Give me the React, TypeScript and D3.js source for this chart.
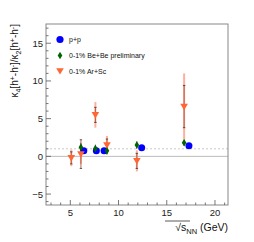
import * as d3 from "d3";

// sqrt(s_NN) positions and kappa4/kappa2 values
const ppEnergy = [6.4, 7.7, 8.5, 12.4, 17.3];
const ppValue = [0.75, 0.75, 0.75, 1.15, 1.4];
const ppStat = [0.2, 0.2, 0.2, 0.2, 0.2];

const beEnergy = [6.1, 7.6, 8.8, 11.9, 16.8];
const beValue = [1.2, 1.05, 0.75, 1.5, 1.8];
const beStat = [0.6, 0.5, 0.5, 0.5, 0.4];

const arEnergy = [5.1, 6.1, 7.6, 8.8, 11.9, 16.8];
const arValue = [-0.2, 0.3, 5.5, 1.5, -0.6, 6.6];
const arStat = [0.8, 1.9, 1.0, 0.8, 1.0, 2.8];
const arSys = [1.1, 1.3, 1.7, 1.2, 1.4, 4.4];

const xTicks = [5, 10, 15, 20];
const yTicks = [-5, 0, 5, 10, 15];

const legendLabels = ["p+p", "0-1% Be+Be preliminary", "0-1% Ar+Sc"];

const W = 254;
const H = 242;
const margin = { left: 46, right: 26, top: 24, bottom: 37 };

const BLUE = "#0000ff";
const GREEN = "#006400";
const ORANGE = "#ff6633";
const font = "'Liberation Sans', Arial, sans-serif";

const App = () => {
  const x = d3.scaleLinear().domain([2.48, 21.35]).range([margin.left, W - margin.right]);
  const y = d3.scaleLinear().domain([-6.45, 17.55]).range([H - margin.bottom, margin.top]);

  const x0 = margin.left;
  const x1 = W - margin.right;
  const y0 = H - margin.bottom;
  const y1 = margin.top;

  const xMinor = d3.range(3, 22);
  const yMinor = d3.range(-6, 18);

  const diamond = (cx: number, cy: number) =>
    `M${cx},${cy - 3.8}L${cx + 2.3},${cy}L${cx},${cy + 3.8}L${cx - 2.3},${cy}Z`;
  const tri = (cx: number, cy: number) =>
    `M${cx - 3.8},${cy - 2.8}L${cx + 3.8},${cy - 2.8}L${cx},${cy + 3.6}Z`;

  return (
    <svg
      width={W}
      height={H}
      style={{ position: "absolute", left: 0, top: 0, background: "#fff" }}
      fontFamily={font}
    >
      {/* reference lines */}
      <line x1={x0} x2={x1} y1={y(0)} y2={y(0)} stroke="#bbb" strokeWidth={1} />
      <line x1={x0} x2={x1} y1={y(1)} y2={y(1)} stroke="#bbb" strokeWidth={0.8} strokeDasharray="2,2" />

      {/* frame */}
      <rect x={x0} y={y1} width={x1 - x0} height={y0 - y1} fill="none" stroke="#888" strokeWidth={1} />

      {/* x ticks */}
      {xMinor.map((t) => (
        <line key={"xm" + t} x1={x(t)} x2={x(t)} y1={y0} y2={y0 - (t % 5 === 0 ? 5 : 2.5)} stroke="#555" strokeWidth={0.8} />
      ))}
      {xTicks.map((t) => (
        <text key={"xt" + t} x={x(t)} y={y0 + 11} fontSize={9.5} textAnchor="middle" fill="#222">
          {t}
        </text>
      ))}
      {/* y ticks */}
      {yMinor.map((t) => (
        <line key={"ym" + t} x1={x0} x2={x0 + (t % 5 === 0 ? 5 : 2.5)} y1={y(t)} y2={y(t)} stroke="#555" strokeWidth={0.8} />
      ))}
      {yTicks.map((t) => (
        <text key={"yt" + t} x={43} y={y(t) + 3.5} fontSize={9.5} textAnchor="end" fill="#222">
          {t < 0 ? "\u2212" + Math.abs(t) : t}
        </text>
      ))}

      {/* axis titles */}
      <text transform={`translate(18,${y1}) rotate(-90)`} fontSize={10} textAnchor="end" fill="#111">
        κ<tspan fontSize={7} dy={2.5}>4</tspan>
        <tspan dy={-2.5}>[h</tspan>
        <tspan fontSize={7} dy={-3.5}>+</tspan>
        <tspan dy={3.5}>-h</tspan>
        <tspan fontSize={7} dy={-3.5}>-</tspan>
        <tspan dy={3.5}>]/κ</tspan>
        <tspan fontSize={7} dy={2.5}>2</tspan>
        <tspan dy={-2.5}>[h</tspan>
        <tspan fontSize={7} dy={-3.5}>+</tspan>
        <tspan dy={3.5}>-h</tspan>
        <tspan fontSize={7} dy={-3.5}>-</tspan>
        <tspan dy={3.5}>]</tspan>
      </text>
      <text x={x1} y={231} fontSize={10.5} textAnchor="end" fill="#111">
        √s<tspan fontSize={7.5} dy={2.5}>NN</tspan>
        <tspan dy={-2.5}> (GeV)</tspan>
      </text>
      <line x1={165} x2={190} y1={221} y2={221} stroke="#111" strokeWidth={0.7} />

      {/* Ar+Sc errors */}
      {arEnergy.map((e, i) => (
        <g key={"ae" + i}>
          <line x1={x(e)} x2={x(e)} y1={y(arValue[i] - arSys[i])} y2={y(arValue[i] + arSys[i])} stroke="#ff9d85" strokeWidth={2} opacity={0.8} />
          <line x1={x(e)} x2={x(e)} y1={y(arValue[i] - arStat[i])} y2={y(arValue[i] + arStat[i])} stroke="#a0422a" strokeWidth={0.8} />
          <line x1={x(e) - 1.2} x2={x(e) + 1.2} y1={y(arValue[i] - arStat[i])} y2={y(arValue[i] - arStat[i])} stroke="#333" strokeWidth={0.8} />
          <line x1={x(e) - 1.2} x2={x(e) + 1.2} y1={y(arValue[i] + arStat[i])} y2={y(arValue[i] + arStat[i])} stroke="#333" strokeWidth={0.8} />
        </g>
      ))}
      {/* Be+Be errors */}
      {beEnergy.map((e, i) => (
        <line key={"be" + i} x1={x(e)} x2={x(e)} y1={y(beValue[i] - beStat[i])} y2={y(beValue[i] + beStat[i])} stroke="#333" strokeWidth={0.8} />
      ))}
      {/* p+p */}
      {ppEnergy.map((e, i) => (
        <g key={"pp" + i}>
          <line x1={x(e)} x2={x(e)} y1={y(ppValue[i] - ppStat[i])} y2={y(ppValue[i] + ppStat[i])} stroke="#333" strokeWidth={0.8} />
          <circle cx={x(e)} cy={y(ppValue[i])} r={3.5} fill={BLUE} />
        </g>
      ))}
      {/* Be+Be markers */}
      {beEnergy.map((e, i) => (
        <path key={"bm" + i} d={diamond(x(e), y(beValue[i]))} fill={GREEN} />
      ))}
      {/* Ar+Sc markers */}
      {arEnergy.map((e, i) => (
        <path key={"am" + i} d={tri(x(e), y(arValue[i]))} fill={ORANGE} />
      ))}

      {/* legend */}
      <circle cx={60} cy={39.5} r={3.6} fill={BLUE} />
      <path d={diamond(60, 55.5)} fill={GREEN} />
      <path d={tri(60, 71)} fill={ORANGE} />
      {legendLabels.map((l, i) => (
        <text key={l} x={69} y={42 + i * 16} fontSize={7} fill="#111">
          {l}
        </text>
      ))}
    </svg>
  );
};

export default App;
